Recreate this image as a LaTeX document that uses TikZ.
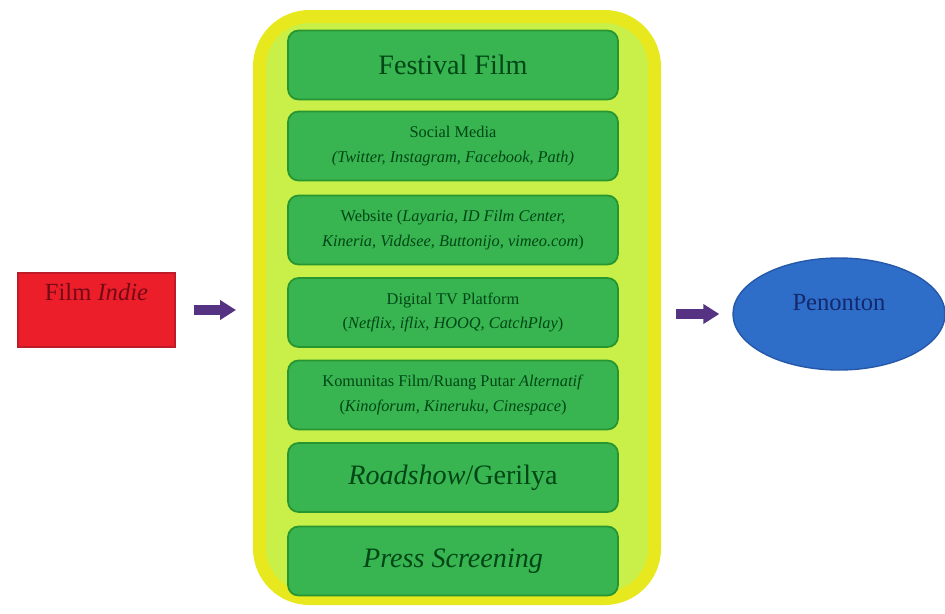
\documentclass[tikz,border=0pt]{standalone}
\usepackage{fontspec}
\setmainfont{Liberation Serif}
\usetikzlibrary{arrows.meta, shapes.geometric}

\definecolor{hubyellow}{RGB}{232,232,30}
\definecolor{hublime}{RGB}{200,240,72}
\definecolor{boxgreen}{RGB}{56,180,80}
\definecolor{boxedge}{RGB}{40,150,48}
\definecolor{textgreen}{RGB}{0,70,22}
\definecolor{indiered}{RGB}{235,30,42}
\definecolor{indieedge}{RGB}{190,28,40}
\definecolor{textred}{RGB}{115,10,22}
\definecolor{viewblue}{RGB}{46,110,200}
\definecolor{viewedge}{RGB}{38,88,170}
\definecolor{textblue}{RGB}{20,40,110}
\definecolor{flowpurple}{RGB}{85,50,130}

\begin{document}
\begin{tikzpicture}[every node/.style={text centered, align=center},
	channel/.style={draw=boxedge, fill=boxgreen, line width=1pt, rounded corners=6pt,
		minimum width=6.6cm, minimum height=1.38cm, inner sep=0pt, text=textgreen},
	bigtext/.style={font=\fontsize{16}{18}\selectfont},
	smalltext/.style={font=\fontsize{9.3}{14}\selectfont},
	flow/.style={-{Triangle[length=0.32cm, width=0.38cm]}, line width=0.2cm, draw=flowpurple}]
	\useasboundingbox (0,0) rectangle (18.9,-12.26);

	\draw (9.14, -6.15)	node[draw=hubyellow, fill=hublime, line width=0.26cm, rounded corners=1cm%
, minimum width=7.9cm, minimum height=11.64cm] (channels)
				{}

			(9.06, -1.3)	node[channel, bigtext] (festival)
				{Festival Film}

			(9.06, -2.92)	node[channel, smalltext] (socmed)
				{Social Media\\\textit{(Twitter, Instagram, Facebook, Path)}}

			(9.06, -4.6)	node[channel, smalltext] (website)
				{Website (\textit{Layaria, ID Film Center,}\\\textit{Kineria, Viddsee, Buttonijo, vimeo.com})}

			(9.06, -6.25)	node[channel, smalltext] (digitaltv)
				{Digital TV Platform\\(\textit{Netflix, iflix, HOOQ, CatchPlay})}

			(9.06, -7.9)	node[channel, smalltext] (komunitas)
				{Komunitas Film/Ruang Putar \textit{Alternatif}\\(\textit{Kinoforum, Kineruku, Cinespace})}

			(9.06, -9.55)	node[channel, bigtext] (roadshow)
				{\textit{Roadshow}/Gerilya}

			(9.06, -11.22)	node[channel, bigtext] (press)
				{\textit{Press Screening}}



			(1.93, -6.2)	node[draw=indieedge, fill=indiered, line width=0.8pt%
, minimum width=3.14cm, inner sep=0pt, text height=0.54cm, text depth=0.94cm%
, text=textred, font=\fontsize{14}{16}\selectfont] (indie)
				{Film \textit{Indie}}

			(16.78, -6.28)	node[ellipse, draw=viewedge, fill=viewblue, line width=0.8pt%
, minimum width=4.24cm, minimum height=2.24cm, inner sep=0pt, text height=0.35cm, text depth=0.51cm%
, text=textblue, font=\fontsize{14}{16}\selectfont] (penonton)
				{Penonton}
;

	\draw[flow, shorten <=0.36cm, shorten >=0.34cm] (indie) -- (indie -| channels.west);
	\draw[flow, shorten <=0.3cm, shorten >=0.26cm] (penonton -| channels.east) -- (penonton);
\end{tikzpicture}
\end{document}
